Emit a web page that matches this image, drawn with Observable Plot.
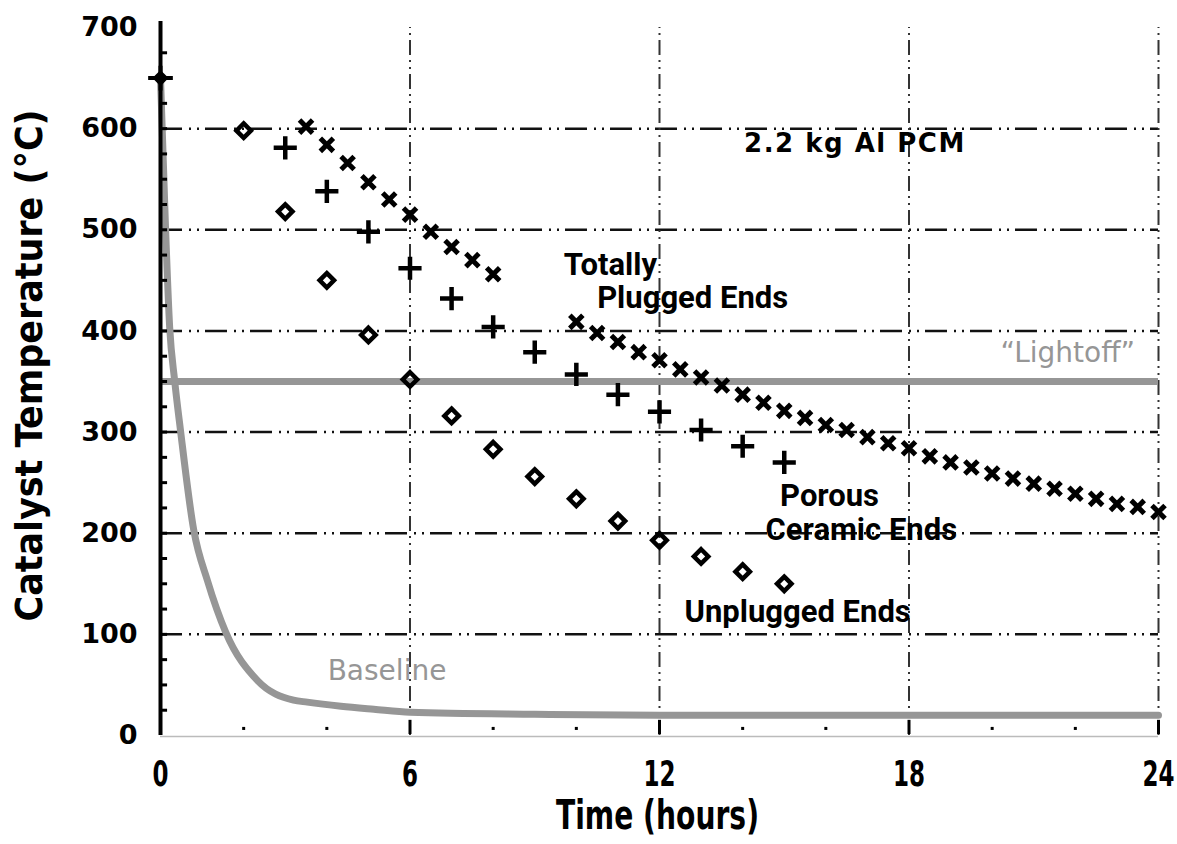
<!DOCTYPE html>
<html><head><meta charset="utf-8">
<script src="https://cdn.jsdelivr.net/npm/d3@7"></script>
<script src="https://cdn.jsdelivr.net/npm/@observablehq/plot@0.6"></script>
<style>body{margin:0;background:#fff;}</style>
</head><body><div id="chart"></div>
<script>
// ---- data ----
const unpluggedHours = [2,3,4,5,6,7,8,9,10,11,12,13,14,15];
const unpluggedTemps = [598,518,450,396,352,316,283,256,234,212,193,177,162,150];

const porousHours = [3,4,5,6,7,8,9,10,11,12,13,14,15];
const porousTemps = [581,538,498,462,432,404,379,357,337,320,302,286,270];

const pluggedHours = [3.5,4,4.5,5,5.5,6,6.5,7,7.5,8,
  10,10.5,11,11.5,12,12.5,13,13.5,14,14.5,15,15.5,16,16.5,17,17.5,18,18.5,19,19.5,20,20.5,21,21.5,22,22.5,23,23.5,24];
const pluggedTemps = [602,584,566,547,530,515,498,483,470,456,
  409,398,389,379,371,362,354,346,337,329,321,314,307,302,295,289,284,276,270,265,259,254,249,244,239,234,229,226,221];

const baselineHours = [0,0.12,0.22,0.34,0.48,0.8,1.13,1.57,2.34,3.2,3.53,4.34,5.13,6,9,12,18,24];
const baselineTemps = [650,503,404,351,302,203,153,102,54,35,33,29,26,23,21,20,20,20];

const startPoint = [{t: 0, v: 650}];
const lightoffTemp = [350];

const gridTemps = [100,200,300,400,500,600];
const gridHours = [6,12,18,24];
const yTickValues = [0,100,200,300,400,500,600,700];
const xTickValues = [0,6,12,18,24];
const yMinorTicks = d3.range(25, 700, 25);
const xMinorTicks = [2,4,8,10,14,16,20,22];

const notes = [
  {t: 16.7, v: 585, text: "2.2 kg Al PCM", kind: "bold"},
  {t: 9.7, v: 465, text: "Totally", kind: "round"},
  {t: 10.5, v: 432, text: "Plugged Ends", kind: "round"},
  {t: 14.9, v: 237, text: "Porous", kind: "round"},
  {t: 14.55, v: 203, text: "Ceramic Ends", kind: "round"},
  {t: 12.6, v: 122, text: "Unplugged Ends", kind: "round"}
];
const grayNotes = [
  {t: 4.02, v: 64, text: "Baseline"},
  {t: 20.2, v: 378, text: "\u201CLightoff\u201D"}
];

// ---- tables ----
const zip = (xs, ys) => xs.map((t, i) => ({t, v: ys[i]}));
const unplugged = zip(unpluggedHours, unpluggedTemps);
const porous = zip(porousHours, porousTemps);
const plugged = zip(pluggedHours, pluggedTemps);
const baseline = zip(baselineHours, baselineTemps);

const narrow = "'Liberation Sans Narrow', 'DejaVu Sans Condensed', sans-serif";
const gray = "#969696";

const chart = Plot.plot({
  width: 1177, height: 844,
  marginLeft: 160, marginRight: 19, marginTop: 27, marginBottom: 109,
  x: {domain: [0, 24]},
  y: {domain: [0, 700]},
  style: {background: "white", fontFamily: "DejaVu Sans", color: "#000"},
  marks: [
    Plot.ruleY(gridTemps, {x1: 0, x2: 24, stroke: "#111", strokeWidth: 2.5, strokeDasharray: "22,7,2,6,2,6"}),
    Plot.ruleX(gridHours, {y1: 0, y2: 700, stroke: "#333", strokeWidth: 2, strokeDasharray: "15,5,2,5,2,5"}),
    Plot.ruleY(lightoffTemp, {x1: 0, x2: 24, stroke: gray, strokeWidth: 7}),
    Plot.line(baseline, {x: "t", y: "v", stroke: gray, strokeWidth: 7, curve: "monotone-x"}),
    Plot.ruleY([0], {x1: 0, x2: 24, stroke: "#bbb", strokeWidth: 1.5, dy: 1}),
    Plot.ruleX([0], {y1: 0, y2: 706, stroke: "#000", strokeWidth: 4}),
    Plot.ruleY(yMinorTicks, {x1: 0, x2: 0.17, stroke: "#000", strokeWidth: 3}),
    Plot.ruleX(xMinorTicks, {y1: 5, y2: 8, stroke: "#000", strokeWidth: 3}),
    Plot.ruleX(gridHours, {y1: 1, y2: 15, stroke: "#000", strokeWidth: 3}),
    Plot.dot(unplugged, {x: "t", y: "v", symbol: "diamond2", r: 6.5, stroke: "#000", strokeWidth: 4.5}),
    Plot.dot(porous, {x: "t", y: "v", symbol: "plus", r: 7.5, stroke: "#000", strokeWidth: 4.5}),
    Plot.dot(plugged, {x: "t", y: "v", symbol: "times", r: 6, stroke: "#000", strokeWidth: 5}),
    Plot.dot(startPoint, {x: "t", y: "v", symbol: "diamond2", r: 6, fill: "#000", stroke: "#000", strokeWidth: 2}),
    Plot.dot(startPoint, {x: "t", y: "v", symbol: "plus", r: 8, stroke: "#000", strokeWidth: 4}),
    Plot.text(notes.filter(d => d.kind === "bold"), {x: "t", y: "v", text: "text", textAnchor: "middle", fontSize: 26, fontWeight: "bold", fontFamily: "DejaVu Sans", className: "pcm"}),
    Plot.text(notes.filter(d => d.kind === "round"), {x: "t", y: "v", text: "text", textAnchor: "start", fontSize: 31, fontWeight: "bold", fontFamily: "Roboto"}),
    Plot.text(grayNotes, {x: "t", y: "v", text: "text", textAnchor: "start", fontSize: 28, fontFamily: "DejaVu Sans", fill: gray}),
    Plot.axisY(yTickValues, {tickSize: 0, tickPadding: 23, fontSize: 27, fontWeight: "bold", fontFamily: "DejaVu Sans", label: null}),
    Plot.axisX(xTickValues, {tickSize: 0, tickPadding: 25, fontSize: 36, fontWeight: "bold", fontFamily: narrow, label: null, className: "xticks"}),
    Plot.text(["Catalyst Temperature (\u00B0C)"], {frameAnchor: "left", textAnchor: "middle", lineAnchor: "middle", dx: -131, dy: -16, rotate: -90, fontSize: 38, fontWeight: "bold", fontFamily: narrow, className: "ytitle"}),
    Plot.text(["Time (hours)"], {frameAnchor: "bottom", textAnchor: "middle", lineAnchor: "middle", dx: -2, dy: 81, fontSize: 40, fontWeight: "bold", fontFamily: narrow, className: "xtitle"})
  ]
});
document.getElementById("chart").append(chart);
// fit the condensed texts to the lengths they have in the reference
const fit = (sel, len) => chart.querySelectorAll(sel).forEach(t => {
  const n = typeof len === "function" ? len(t.textContent) : len;
  t.setAttribute("textLength", n); t.setAttribute("lengthAdjust", "spacingAndGlyphs");
});
fit(".ytitle text", 512);
fit(".xtitle text", 203);
fit(".xticks text", s => 16 * s.length);
chart.querySelectorAll(".pcm text").forEach(t => t.setAttribute("letter-spacing", "1.5"));
</script>
</body></html>
